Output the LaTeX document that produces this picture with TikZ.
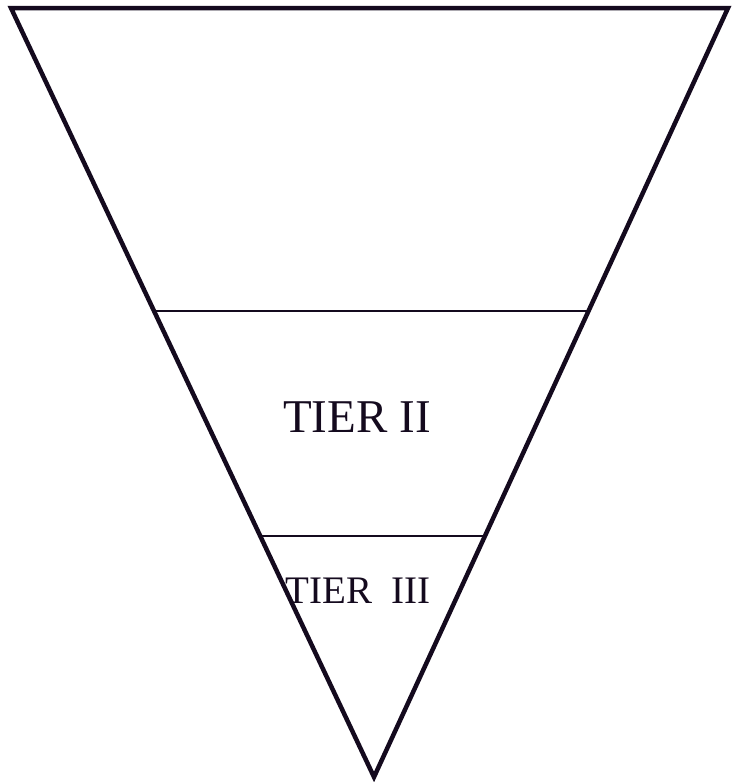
\documentclass[tikz,border=0pt]{standalone}
\usepackage{fontspec}
\setmainfont{Liberation Serif}
\usepackage{tikz}
\usetikzlibrary{calc}

\definecolor{ink}{RGB}{20,10,30}

\begin{document}
\begin{tikzpicture}[x=1pt,y=-1pt,line join=miter,
  funnel/.style={draw=ink,line width=4.5pt},
  tierline/.style={draw=ink,line width=2pt},
  tierlabel/.style={text=ink,inner sep=0pt,anchor=base}]
		\useasboundingbox (0,0) rectangle (733,782);

		\coordinate (TL) at (11,8);
		\coordinate (TR) at (728,8);
		\coordinate (apex) at (374,777);

		\draw[funnel] (TL) -- (TR) -- (apex) -- cycle;

		% tier borders
		\coordinate (L2) at ($(TL)!0.394!(apex)$);
		\coordinate (R2) at ($(TR)!0.394!(apex)$);
		\coordinate (L3) at ($(TL)!0.686!(apex)$);
		\coordinate (R3) at ($(TR)!0.686!(apex)$);
		\draw[tierline] (L2) -- (R2);
		\draw[tierline] (L3) -- (R3);

		\node[tierlabel,font=\fontsize{47}{50}\selectfont] (tier2) at (357,432) {TIER II};
		\node[tierlabel,font=\fontsize{39}{42}\selectfont] (tier3) at (358,603) {TIER\ \ III};

		\end{tikzpicture}
\end{document}
